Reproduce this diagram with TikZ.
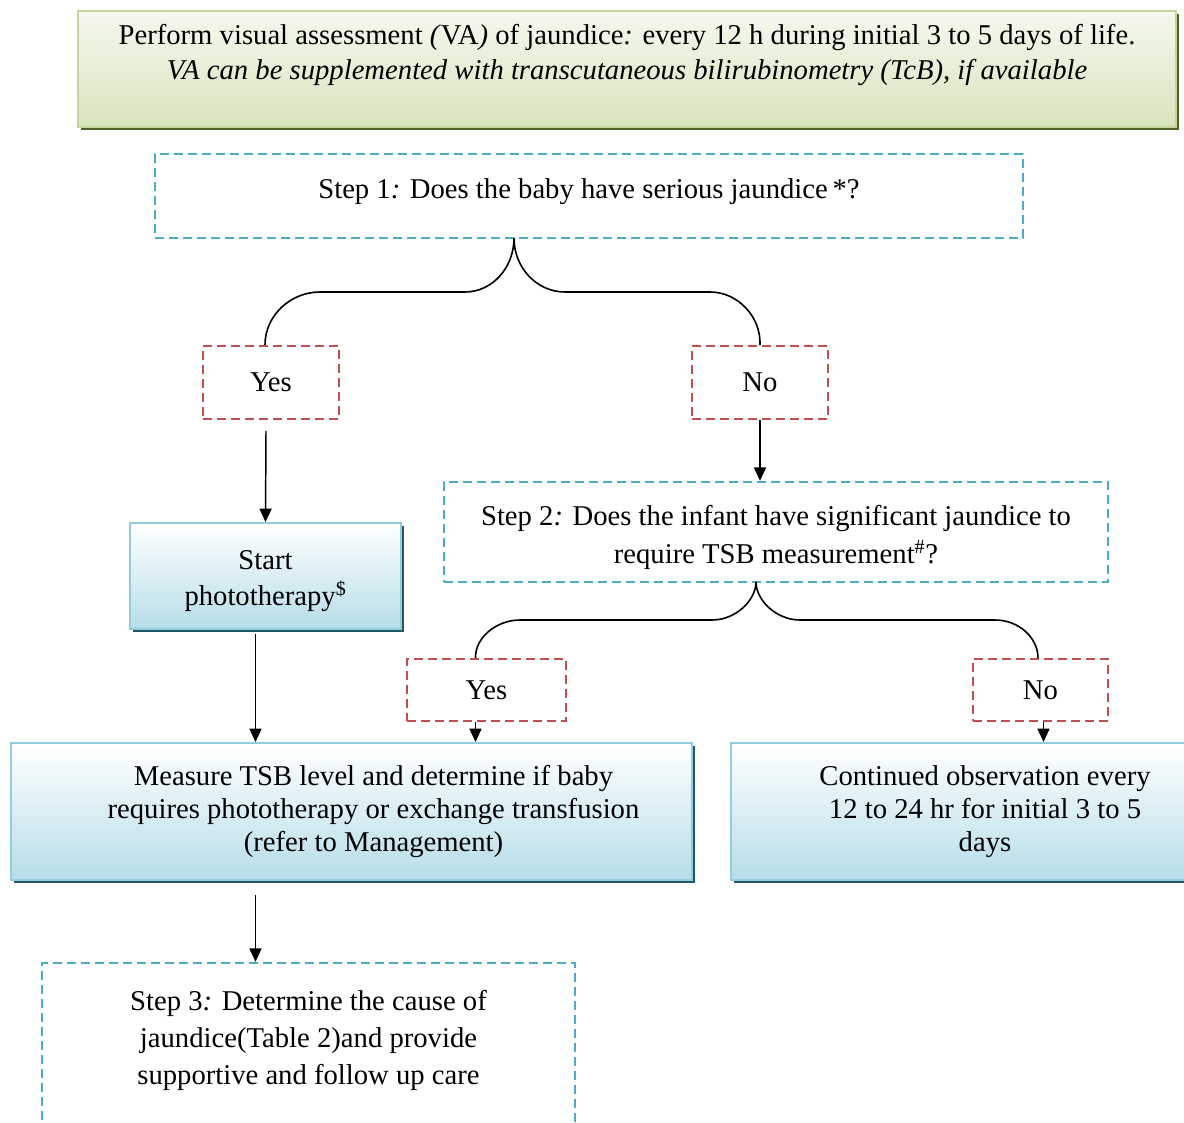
\documentclass[tikz,border=0pt]{standalone}
\usepackage{fontspec}
\setmainfont{Liberation Serif}
\usetikzlibrary{arrows.meta}
\usetikzlibrary{shadows}

\definecolor{stepblue}{HTML}{4BACC6}
\definecolor{answred}{HTML}{C0504D}
\definecolor{actline}{HTML}{93CDDD}
\definecolor{actfill}{HTML}{B6DDE8}
\definecolor{actshade}{HTML}{215868}
\definecolor{valine}{HTML}{C3D69B}
\definecolor{vafill}{HTML}{D7E4BD}
\definecolor{vashade}{HTML}{4F6228}

\tikzset{
  stepbox/.style={draw=stepblue, line width=1.8pt, dash pattern=on 6.5pt off 4pt,
    align=center, inner sep=0pt, font=\fontsize{21.5}{28}\selectfont},
  answbox/.style={draw=answred, line width=1.8pt, dash pattern=on 6.5pt off 4pt,
    inner sep=0pt, font=\fontsize{21.5}{26}\selectfont},
  actbox/.style={draw=actline, line width=1.5pt, top color=white, bottom color=actfill,
    drop shadow={shadow xshift=2.25pt, shadow yshift=-2.25pt, fill=actshade, opacity=1},
    align=center, inner sep=0pt, font=\fontsize{21.5}{24.5}\selectfont},
  vabox/.style={draw=valine, line width=1.5pt, top color=vafill!25, bottom color=vafill,
    drop shadow={shadow xshift=2.25pt, shadow yshift=-2.25pt, fill=vashade, opacity=1},
    align=center, inner sep=0pt, font=\fontsize{21.5}{26}\selectfont},
  arr/.style={-{Triangle[length=10pt,width=9pt]}, line width=1.1pt},
  brace/.style={line width=1.2pt},
}

\begin{document}
\begin{tikzpicture}[x=0.75pt, y=-0.75pt]
  \useasboundingbox (0,0) rectangle (1184,1123);

  % top box
  \node[vabox, minimum width=823.5pt, minimum height=87pt] (va) at (627,69)
    {Perform visual assessment \textit{(}VA\textit{)} of jaundice\textit{:} every 12 h during initial 3 to 5 days of life.\\
     \textit{VA can be supplemented with transcutaneous bilirubinometry (TcB), if available}\\ ~};

  % step 1
  \node[stepbox, minimum width=651pt, minimum height=63pt] (stepA) at (589,196)
    {Step 1\textit{:} Does the baby have serious jaundice\,*?\\[-17.5pt]~};
  \node[answbox, minimum width=102pt, minimum height=54.75pt] (yesA) at (271,382.5) {Yes};
  \node[answbox, minimum width=102pt, minimum height=54.75pt] (noA) at (760,382.5) {No};

  % brace under step 1
  \coordinate (tipA) at (514,238);
  \draw[brace] ([xshift=-4.5pt]yesA.north) .. controls (265,316) and (290,292) .. (320,292)
    -- (465,292) .. controls (492,292) and (514,268) .. (tipA);
  \draw[brace] (tipA) .. controls (514,268) and (537,292) .. (565,292)
    -- (710,292) .. controls (738,292) and (761,317) .. (noA.north);

  % yes branch
  \node[actbox, minimum width=203.25pt, minimum height=79.5pt,
        font=\fontsize{21.5}{27}\selectfont] (photo) at (265.5,576)
    {~\\[-5pt]Start\\phototherapy\textsuperscript{\$}};
  \draw[arr] (yesA.south) ++(-5,11) -- (photo.north);

  % no branch, step 2
  \node[stepbox, minimum width=498pt, minimum height=75pt] (stepB) at (776,532)
    {~\\[-4.5pt]Step 2\textit{:} Does the infant have significant jaundice to\\require TSB measurement\textsuperscript{\#}?};
  \draw[arr] (noA.south) -- (noA.south |- stepB.north);

  \node[answbox, minimum width=119.25pt, minimum height=46.5pt] (yesB) at (486.5,690) {Yes};
  \node[answbox, minimum width=101.25pt, minimum height=46.5pt] (noB) at (1040.5,690) {No};

  % brace under step 2
  \coordinate (tipB) at (756,582);
  \draw[brace] ([xshift=-8.25pt]yesB.north) .. controls (475,638) and (496,620) .. (520,620)
    -- (712,620) .. controls (736,620) and (756,600) .. (tipB);
  \draw[brace] (tipB) .. controls (756,600) and (776,620) .. (800,620)
    -- (995,620) .. controls (1019,620) and (1038,638) .. ([xshift=-1.9pt]noB.north);

  % lower boxes
  \node[actbox, minimum width=510.75pt, minimum height=102.75pt] (measure) at (351.5,811.5)
    {\hspace*{33pt}Measure TSB level and determine if baby\\
     \hspace*{33pt}requires phototherapy or exchange transfusion\\
     \hspace*{33pt}(refer to Management)};
  \node[actbox, minimum width=381pt, minimum height=102.75pt] (cont) at (985,811.5)
    {Continued observation every\\12 to 24 hr for initial 3 to 5\\days};

  \draw[arr] (photo.south) ++(-10,4) coordinate (p) -- (p |- measure.north);
  \draw[arr] (yesB.south) ++(-11,0) coordinate (q) -- (q |- measure.north);
  \draw[arr] (noB.south) ++(3,0) coordinate (s) -- (s |- cont.north);

  % step 3
  \node[stepbox, minimum width=399.75pt, minimum height=139.5pt] (stepC) at (308.5,1056)
    {Step 3\textit{:} Determine the cause of\\jaundice(Table 2)and provide\\supportive and follow up care\\ ~};
  \draw[arr] (measure.south) ++(-96,14) coordinate (r) -- (r |- stepC.north);
\end{tikzpicture}
\end{document}
